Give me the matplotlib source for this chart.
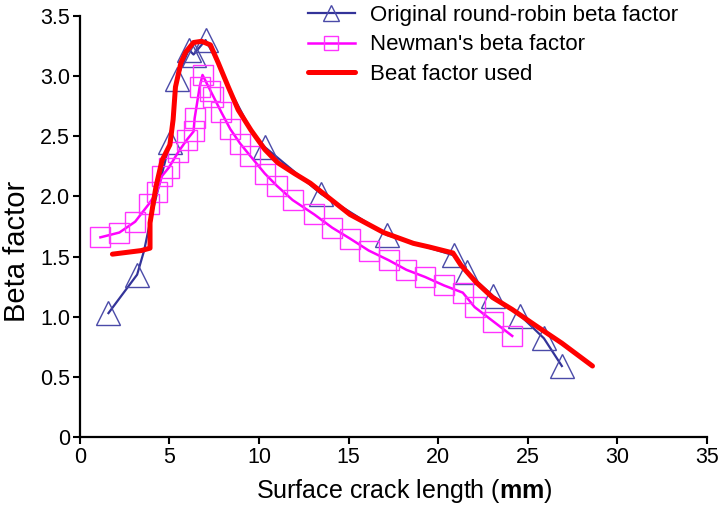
import matplotlib.pyplot as plt

plt.rcParams['font.family'] = ['Liberation Sans', 'DejaVu Sans']
plt.rcParams['mathtext.fontset'] = 'custom'
plt.rcParams['mathtext.rm'] = 'Liberation Sans'
plt.rcParams['mathtext.bf'] = 'Liberation Sans:bold'

# original round-robin beta factor (line vertices, markers only on measured points)
orig_x = [1.60, 3.20, 3.59, 3.98, 5.03, 5.41, 6.08, 6.35, 7.02, 7.73, 8.29, 9.56,
          10.33, 13.48, 17.13, 20.88, 21.60, 23.09, 24.59, 25.91, 26.91]
orig_y = [1.03, 1.35, 1.55, 1.83, 2.45, 2.98, 3.22, 3.18, 3.30, 3.11, 2.91, 2.55,
          2.41, 2.02, 1.68, 1.51, 1.37, 1.17, 1.01, 0.82, 0.59]
orig_marks = [0, 1, 4, 5, 6, 7, 8, 12, 13, 14, 15, 16, 17, 18, 19, 20]

# Newman's beta factor
newman_x = [1.15, 2.21, 3.09, 3.87, 4.31, 4.59, 4.97, 5.50, 5.97, 6.35, 6.41, 6.69,
            6.85, 7.29, 7.46, 7.90, 8.40, 8.95, 9.50, 10.33, 10.99, 11.88, 13.09,
            14.09, 15.08, 16.13, 17.24, 18.23, 19.28, 20.33, 21.38, 22.04, 23.09, 24.14]
newman_y = [1.66, 1.70, 1.79, 1.94, 2.04, 2.17, 2.24, 2.37, 2.47, 2.54, 2.65, 2.91,
            3.01, 2.88, 2.83, 2.70, 2.56, 2.44, 2.34, 2.19, 2.09, 1.97, 1.85,
            1.74, 1.65, 1.55, 1.47, 1.39, 1.33, 1.26, 1.20, 1.08, 0.96, 0.84]

# beta factor used
used_x = [1.82, 3.43, 3.92, 3.92, 4.25, 4.59, 5.03, 5.21, 5.34, 5.64, 5.91, 6.35,
          6.80, 7.29, 7.73, 8.29, 8.84, 9.56, 10.33, 11.05, 11.99, 12.87, 15.08,
          16.96, 18.62, 19.50, 20.83, 21.27, 22.10, 23.04, 24.14, 25.41, 26.91, 28.62]
used_y = [1.52, 1.55, 1.57, 1.78, 2.08, 2.30, 2.43, 2.64, 2.91, 3.11, 3.20, 3.28,
          3.29, 3.26, 3.11, 2.91, 2.72, 2.55, 2.39, 2.28, 2.19, 2.11, 1.85,
          1.70, 1.61, 1.58, 1.53, 1.43, 1.29, 1.16, 1.06, 0.93, 0.78, 0.59]

xticks = [0, 5, 10, 15, 20, 25, 30, 35]
yticks = [0, 0.5, 1.0, 1.5, 2.0, 2.5, 3.0, 3.5]
ytick_labels = ['0', '0.5', '1.0', '1.5', '2.0', '2.5', '3.0', '3.5']

fig = plt.figure(figsize=(7.19, 5.09), dpi=100)
ax = fig.add_axes([0.111, 0.1415, 0.872, 0.827])

ax.plot(orig_x, orig_y, color='#333399', lw=1.6, marker='^', markevery=orig_marks,
        ms=17, mfc='none', mec='#4a4aa8', mew=1.0,
        label='Original round-robin beta factor')
ax.plot(newman_x, newman_y, color='#ff00ff', lw=1.8, marker='s', ms=15,
        mfc='none', mec='#ff33ff', mew=1.0, label="Newman's beta factor")
ax.plot(used_x, used_y, color='#ff0000', lw=3.6, solid_capstyle='round',
        label='Beat factor used')

ax.set_xlim(0, 35)
ax.set_ylim(0, 3.5)
ax.set_xticks(xticks)
ax.set_yticks(yticks)
ax.set_yticklabels(ytick_labels)
ax.tick_params(labelsize=15.5, length=5, width=1.5, direction='out', pad=2)

for side in ('top', 'right'):
    ax.spines[side].set_visible(False)
for side in ('left', 'bottom'):
    ax.spines[side].set_linewidth(1.6)

ax.set_xlabel(r'Surface crack length ($\mathbf{mm}$)', fontsize=18)
ax.xaxis.set_label_coords(0.518, -0.095)
ax.set_ylabel('Beta factor', fontsize=21)
ax.yaxis.set_label_coords(-0.078, 0.44)

ax.legend(loc='upper left', bbox_to_anchor=(308 / 719, 1 - 5 / 509),
          bbox_transform=fig.transFigure, frameon=False, fontsize=16,
          borderpad=0, borderaxespad=0, handlelength=2.1, handletextpad=0.7,
          labelspacing=0.38, markerscale=0.65)

fig.savefig('out.png', dpi=100)
